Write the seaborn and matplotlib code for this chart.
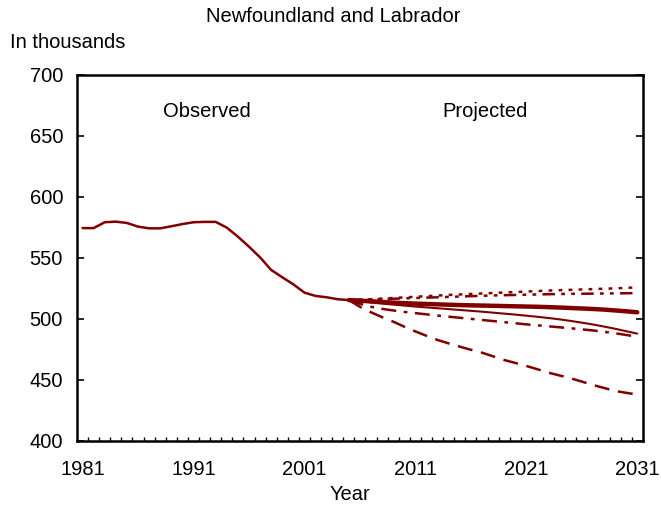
import numpy as np
import pandas as pd
import matplotlib
matplotlib.use("Agg")
import matplotlib.pyplot as plt
import seaborn as sns

# observed population, thousands
obs_years = list(range(1981, 2006))
obs_vals = [574.5, 574.5, 579.3, 579.8, 578.7, 575.7, 574.3, 574.3, 576.0, 577.8,
            579.3, 579.6, 579.6, 574.9, 567.5, 559.3, 550.5, 540.2, 534.2, 528.4,
            521.6, 518.9, 517.8, 516.2, 515.5]

# projection scenarios 2005-2031
proj_years = list(range(2005, 2032))
low = [515.5, 510.0, 505.5, 501.5, 497.8, 493.7, 489.8, 486.2, 482.8, 480.0,
       477.3, 474.8, 472.4, 469.4, 466.4, 464.0, 461.5, 458.8, 456.0, 453.7,
       451.4, 448.7, 445.9, 443.5, 441.0, 439.5, 438.0]
medium = [515.5, 515.0, 514.5, 514.0, 513.4, 513.0, 512.6, 512.3, 512.0, 511.7,
          511.4, 511.2, 511.0, 510.8, 510.6, 510.4, 510.2, 510.0, 509.7, 509.4,
          509.0, 508.6, 508.2, 507.7, 507.0, 506.3, 505.5]
thin = [515.5, 514.5, 513.5, 512.6, 511.8, 511.0, 510.2, 509.5, 508.8, 508.1,
        507.4, 506.7, 506.0, 505.2, 504.4, 503.6, 502.7, 501.8, 500.8, 499.7,
        498.4, 497.0, 495.5, 493.8, 492.0, 490.0, 488.0]
dashdot = [515.5, 512.5, 510.0, 508.3, 507.0, 505.8, 504.8, 503.8, 502.8, 501.9,
           501.0, 500.1, 499.2, 498.3, 497.4, 496.5, 495.6, 494.8, 494.0, 493.2,
           492.4, 491.5, 490.6, 489.5, 488.3, 486.9, 485.5]
high_a = [515.5, 515.8, 516.2, 516.7, 517.2, 517.7, 518.2, 518.7, 519.2, 519.7,
          520.1, 520.5, 520.9, 521.3, 521.7, 522.1, 522.5, 522.9, 523.3, 523.6,
          523.9, 524.2, 524.5, 524.8, 525.1, 525.5, 525.9]
high_b = [515.5, 515.7, 516.0, 516.3, 516.6, 516.9, 517.2, 517.5, 517.8, 518.1,
          518.4, 518.7, 519.0, 519.3, 519.5, 519.7, 519.9, 520.1, 520.3, 520.5,
          520.6, 520.7, 520.8, 520.9, 521.0, 521.1, 521.2]

year_labels = [1981, 1991, 2001, 2011, 2021, 2031]
y_ticks = [400, 450, 500, 550, 600, 650, 700]

color = "#800000"
fs = 14.5

sns.set_style("white")
plt.rcParams["font.family"] = ["Liberation Sans", "DejaVu Sans"]
plt.rcParams["font.size"] = fs
plt.rcParams["text.color"] = "black"
plt.rcParams["xtick.color"] = "black"
plt.rcParams["ytick.color"] = "black"
plt.rcParams["axes.labelcolor"] = "black"

fig = plt.figure(figsize=(6.61, 5.08), dpi=100)
ax = fig.add_axes([0.1165, 0.1319, 0.856, 0.7205])

sns.lineplot(x=obs_years, y=obs_vals, ax=ax, color=color, lw=1.8)
sns.lineplot(x=proj_years, y=low, ax=ax, color=color, lw=1.8,
             linestyle=(0, (6, 3.5)))
sns.lineplot(x=proj_years, y=dashdot, ax=ax, color=color, lw=1.8,
             linestyle=(0, (6, 3, 1.5, 3)))
sns.lineplot(x=proj_years, y=thin, ax=ax, color=color, lw=1.5)
sns.lineplot(x=proj_years, y=high_b, ax=ax, color=color, lw=1.8,
             linestyle=(0, (5, 2.5, 1.5, 2.5, 1.5, 2.5)))
sns.lineplot(x=proj_years, y=high_a, ax=ax, color=color, lw=1.8,
             linestyle=(0, (1.5, 2.5)))
sns.lineplot(x=proj_years, y=medium, ax=ax, color=color, lw=3.2)

ax.set_xlim(1980.5, 2031.5)
ax.set_ylim(400, 700)
ax.set_xticks(year_labels)
ax.set_xticks(np.arange(1981.5, 2031, 1.0), minor=True)
ax.set_yticks(y_ticks)
ax.tick_params(axis="x", which="major", length=0, pad=14, labelsize=fs)
ax.tick_params(axis="x", which="minor", direction="in", length=3, width=1,
               bottom=True, color="black")
ax.tick_params(axis="y", which="major", direction="in", length=5, width=1.2,
               left=True, right=True, pad=10, labelsize=fs, color="black")
for s in ax.spines.values():
    s.set_visible(True)
    s.set_color("black")
    s.set_linewidth(1.8)
ax.set_xlabel("")
ax.set_ylabel("")
ax.grid(False)

ax.text(1992.2, 669.7, "Observed", ha="center", va="center", fontsize=fs)
ax.text(2017.3, 669.7, "Projected", ha="center", va="center", fontsize=fs)

fig.text(333 / 661, 1 - 17 / 508, "Newfoundland and Labrador", ha="center",
         va="center", fontsize=fs)
fig.text(10 / 661, 1 - 42 / 508, "In thousands", ha="left", va="center",
         fontsize=fs)
fig.text(350 / 661, 1 - 495 / 508, "Year", ha="center", va="center",
         fontsize=fs)

fig.savefig("out.png", dpi=100)
